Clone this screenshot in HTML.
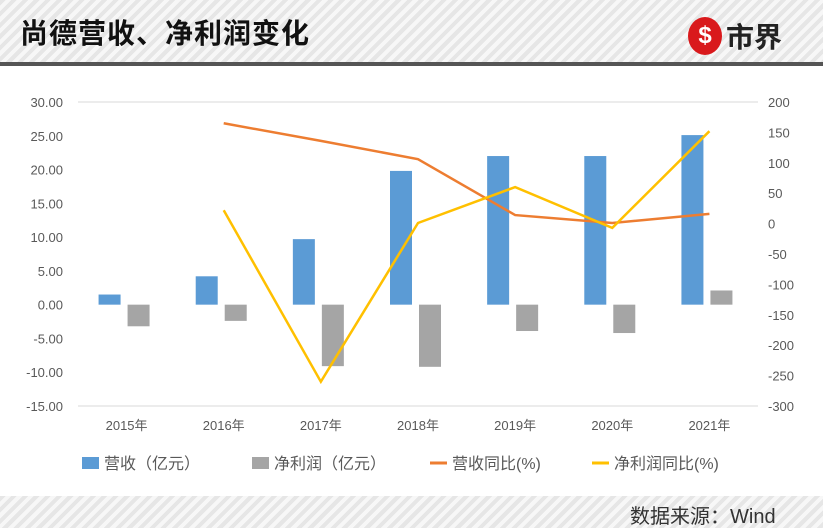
<!DOCTYPE html>
<html><head><meta charset="utf-8"><style>
body{margin:0;width:823px;height:528px;overflow:hidden;background:#fff;font-family:"Liberation Sans","Noto Sans CJK SC",sans-serif}
.stripe{background:repeating-linear-gradient(135deg,#e6e6e6 0 4px,#f7f7f7 4px 8px)}
</style></head><body>
<div class="stripe" style="position:absolute;left:0;top:0;width:823px;height:62px"></div>
<div style="position:absolute;left:0;top:62px;width:823px;height:4px;background:#555"></div>
<div style="position:absolute;left:20px;top:12px;font-size:28px;font-weight:bold;color:#111;letter-spacing:1px">尚德营收、净利润变化</div>
<div style="position:absolute;left:688px;top:17px;width:34px;height:38px;border-radius:50%;background:#d9191c;color:#fff;font-weight:bold;font-size:24px;text-align:center;line-height:38px">$</div>
<div style="position:absolute;left:726px;top:16px;font-size:28px;font-weight:bold;color:#222">市界</div>
<div class="stripe" style="position:absolute;left:0;top:496px;width:823px;height:32px"></div>
<div style="position:absolute;left:630px;top:500px;font-size:20px;color:#333">数据来源：Wind</div>
<svg id="c" width="823" height="496" style="position:absolute;left:0;top:0"></svg>
<script>
const categories=["2015年","2016年","2017年","2018年","2019年","2020年","2021年"];
const revenue=[1.5,4.2,9.7,19.8,22.0,22.0,25.1];
const profit=[-3.2,-2.4,-9.1,-9.2,-3.9,-4.2,2.1];
const revYoY=[null,165,136,106,14,1,16];
const profYoY=[null,22,-260,1,60,-7,152];
const leftTicks=[30,25,20,15,10,5,0,-5,-10,-15];
const rightTicks=[200,150,100,50,0,-50,-100,-150,-200,-250,-300];
const svg=document.getElementById('c'),NS='http://www.w3.org/2000/svg';
const yTop=102,yBot=406,x0=78,x1=758,step=(x1-x0)/categories.length;
const yL=v=>yTop+(30-v)/45*(yBot-yTop), yR=v=>yTop+(200-v)/500*(yBot-yTop), xC=i=>x0+step*(i+0.5);
function mk(t,a,txt){const e=document.createElementNS(NS,t);for(const k in a)e.setAttribute(k,a[k]);if(txt!=null)e.textContent=txt;svg.appendChild(e);return e;}
[30,-15].forEach(v=>{const g=mk('line',{x1:x0,x2:x1,y1:yL(v),y2:yL(v),stroke:'#d9d9d9'});

});
leftTicks.forEach(v=>{const t=mk('text',{x:63,y:yL(v)+5,'text-anchor':'end','font-size':13,fill:'#595959'},v.toFixed(2));

});
rightTicks.forEach(v=>{const t=mk('text',{x:768,y:yR(v)+5,'font-size':13,fill:'#595959'},v);

});
categories.forEach((c,i)=>{const t=mk('text',{x:xC(i),y:430,'text-anchor':'middle','font-size':13,fill:'#595959'},c);


const a=Math.min(yL(revenue[i]),yL(0)),b=mk('rect',{x:xC(i)-28,y:a,width:22,height:Math.abs(yL(revenue[i])-yL(0)),fill:'#5b9bd5'});


const p=Math.min(yL(profit[i]),yL(0)),q=mk('rect',{x:xC(i)+1,y:p,width:22,height:Math.abs(yL(profit[i])-yL(0)),fill:'#a5a5a5'});

});
function line(d,col,name){let pts=[];d.forEach((v,i)=>{if(v!=null)pts.push(xC(i)+','+yR(v))});
const l=mk('polyline',{points:pts.join(' '),fill:'none',stroke:col,'stroke-width':2.5});

}
line(revYoY,'#ed7d31','revenue-yoy-line');line(profYoY,'#ffc000','profit-yoy-line');
const leg=[['rect','#5b9bd5','营收（亿元）',82],['rect','#a5a5a5','净利润（亿元）',252],['line','#ed7d31','营收同比(%)',430],['line','#ffc000','净利润同比(%)',592]];
leg.forEach(([k,c,t,x])=>{
if(k=='rect')mk('rect',{x:x,y:457,width:17,height:12,fill:c});else mk('line',{x1:x,x2:x+17,y1:463,y2:463,stroke:c,'stroke-width':3});
const tx=mk('text',{x:x+22,y:469,'font-size':16,fill:'#595959'},t);

});
</script>
</body></html>
